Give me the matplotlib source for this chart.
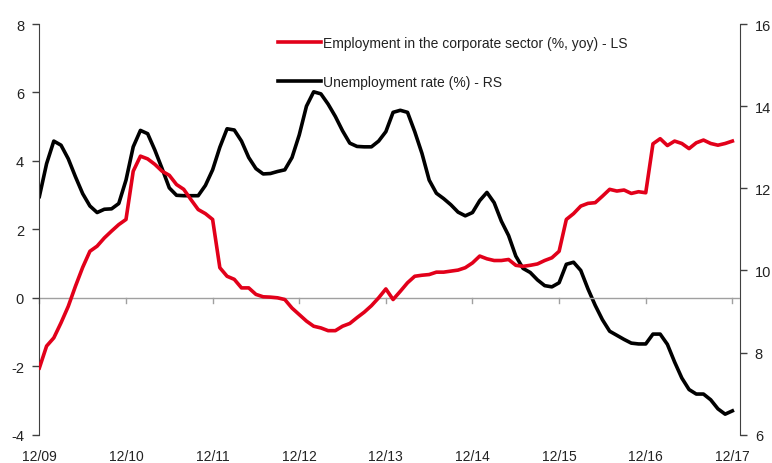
import matplotlib
matplotlib.use("Agg")
import matplotlib.pyplot as plt
import numpy as np

plt.rcParams['font.family'] = ['Liberation Sans', 'DejaVu Sans']
plt.rcParams['axes.unicode_minus'] = False

# monthly data, Dec 2009 - Dec 2017
employment = [-2.05, -1.41, -1.17, -0.73, -0.25, 0.34, 0.89, 1.36, 1.51, 1.75, 1.95, 2.14,
              2.29, 3.70, 4.14, 4.06, 3.90, 3.70, 3.58, 3.31, 3.17, 2.87, 2.58, 2.46,
              2.29, 0.88, 0.63, 0.54, 0.29, 0.29, 0.10, 0.03, 0.02, 0.00, -0.05, -0.30,
              -0.49, -0.68, -0.83, -0.88, -0.96, -0.96, -0.83, -0.75, -0.58, -0.42, -0.23, 0.00,
              0.26, -0.05, 0.19, 0.44, 0.63, 0.66, 0.68, 0.75, 0.75, 0.78, 0.81, 0.88,
              1.02, 1.22, 1.14, 1.09, 1.09, 1.12, 0.95, 0.92, 0.95, 0.99, 1.09, 1.17,
              1.36, 2.29, 2.46, 2.68, 2.76, 2.78, 2.97, 3.17, 3.12, 3.15, 3.05, 3.10,
              3.07, 4.50, 4.65, 4.45, 4.58, 4.51, 4.36, 4.53, 4.61, 4.51, 4.46, 4.51, 4.58]

unemployment = [11.80, 12.60, 13.15, 13.05, 12.72, 12.28, 11.87, 11.57, 11.41, 11.49, 11.50, 11.63,
                12.20, 13.01, 13.41, 13.33, 12.93, 12.48, 12.01, 11.83, 11.82, 11.82, 11.82, 12.07,
                12.45, 13.00, 13.45, 13.42, 13.15, 12.75, 12.48, 12.35, 12.36, 12.41, 12.45, 12.75,
                13.30, 14.00, 14.35, 14.30, 14.05, 13.75, 13.40, 13.10, 13.02, 13.01, 13.01, 13.15,
                13.38, 13.85, 13.90, 13.85, 13.38, 12.85, 12.20, 11.88, 11.75, 11.60, 11.42, 11.33,
                11.41, 11.70, 11.90, 11.65, 11.20, 10.85, 10.35, 10.05, 9.95, 9.77, 9.63, 9.60,
                9.70, 10.15, 10.20, 10.00, 9.55, 9.15, 8.80, 8.52, 8.42, 8.32, 8.23, 8.21,
                8.21, 8.45, 8.45, 8.20, 7.77, 7.38, 7.10, 6.99, 6.99, 6.85, 6.63, 6.50, 6.58]

tick_labels = ['12/09', '12/10', '12/11', '12/12', '12/13', '12/14', '12/15', '12/16', '12/17']

red = '#E2001A'
axis_col = '#404040'
x = np.arange(len(employment))

fig = plt.figure(figsize=(7.72, 4.64), dpi=100)
ax1 = fig.add_axes([0.051, 0.061, 0.907, 0.885])
ax2 = ax1.twinx()

ax1.axhline(0, color='#a0a0a0', lw=1.0, zorder=1)
l1, = ax1.plot(x, employment, color=red, lw=2.6, zorder=3,
               label='Employment in the corporate sector (%, yoy) - LS')
l2, = ax2.plot(x, unemployment, color='black', lw=2.6, zorder=3,
               label='Unemployment rate (%) - RS')

ax1.set_xlim(0, 97)
ax1.set_ylim(-4, 8)
ax1.set_yticks(range(-4, 9, 2))
ax2.set_ylim(6, 16)
ax2.set_yticks(range(6, 17, 2))

# x ticks sit on the zero line, labels at the bottom
ax1.set_xticks([])
for i, lab in enumerate(tick_labels):
    xi = i * 12
    ax1.plot([xi, xi], [0, -0.15], color='#a0a0a0', lw=1.0, zorder=1, clip_on=False)
    ax1.text(xi, -4.42, lab, ha='center', va='top', fontsize=10, color='#222222')

for ax in (ax1, ax2):
    ax.spines['top'].set_visible(False)
    ax.spines['bottom'].set_visible(False)
    ax.spines['left'].set_color(axis_col)
    ax.spines['right'].set_color(axis_col)
    ax.tick_params(axis='y', direction='out', length=5, width=1, color=axis_col,
                   labelsize=10.5, labelcolor='#222222', pad=6)
ax2.spines['left'].set_visible(False)
ax1.spines['right'].set_visible(False)

leg = ax1.legend(handles=[l1, l2], loc='upper left', bbox_to_anchor=(0.333, 0.985),
                 frameon=False, fontsize=10, handlelength=3.1, handletextpad=0.15,
                 labelspacing=1.8, borderaxespad=0)
for t in leg.get_texts():
    t.set_color('#222222')
ax1.set_zorder(ax2.get_zorder() + 1)
ax1.patch.set_visible(False)

plt.savefig('out.png', dpi=100)
